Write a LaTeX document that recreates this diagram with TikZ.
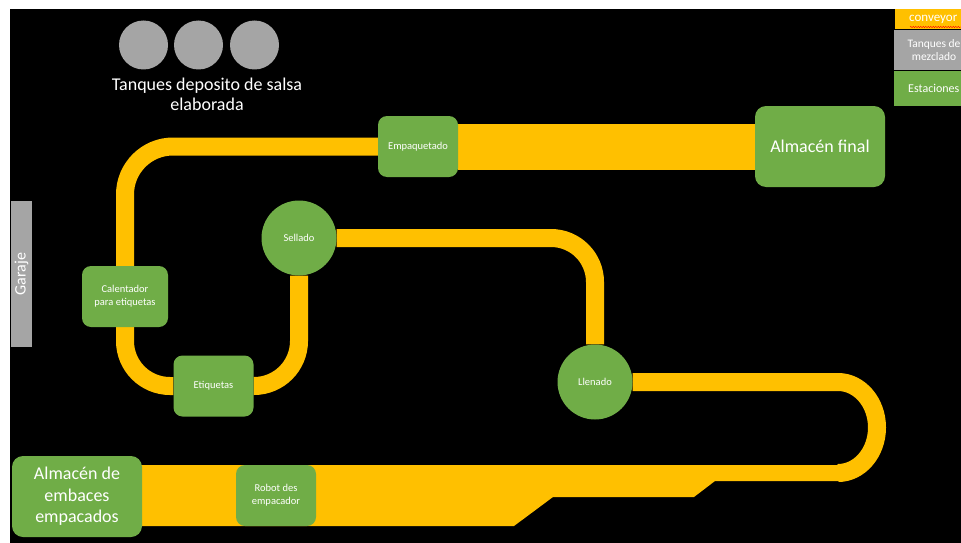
\documentclass[tikz,border=0pt]{standalone}
\usepackage{fontspec}
\setmainfont{Carlito}
\usetikzlibrary{decorations.pathmorphing}
\definecolor{cgreen}{HTML}{70AD47}
\definecolor{cgray}{HTML}{A5A5A5}
\definecolor{cyel}{HTML}{FFC000}
\pgfdeclarelayer{bg}
\pgfsetlayers{bg,main}
\begin{document}
\begin{tikzpicture}[x=1pt,y=-1pt,
  conv/.style={draw=cyel, line width=18pt},
  station/.style={fill=cgreen, rounded corners=9pt, text=white, align=center, inner sep=0pt,
    minimum width=80pt, minimum height=61pt, font=\fontsize{10.5}{13}\selectfont},
  bigstation/.style={station, minimum width=130pt, minimum height=81pt, rounded corners=11pt},
  circst/.style={circle, fill=cgreen, text=white, inner sep=0pt, minimum size=75pt,
    font=\fontsize{10.5}{13}\selectfont},
  tank/.style={circle, fill=cgray, inner sep=0pt, minimum size=49pt},
  legbox/.style={inner sep=0pt, text=white, align=center, font=\fontsize{11.5}{13}\selectfont}]
\useasboundingbox (0,0) rectangle (961,543);

% nodes
\node[station] (emp) at (418,146.5) {Empaquetado};
\node[bigstation, font=\fontsize{18}{20}\selectfont] (alm) at (820,146.5) {Almacén final};
\node[station, minimum width=86pt] (cal) at (125,296.5) {Calentador\\para etiquetas};
\node[station] (etq) at (213.5,386) {Etiquetas};
\node[circst] (sel) at (299,238) {Sellado};
\node[circst] (lle) at (595,382) {Llenado};
\node[bigstation, font=\fontsize{18}{21.5}\selectfont] (alm2) at (77,496.5) {Almacén de\\embaces\\empacados};
\node[station] (rob) at (276,495.5) {Robot des\\empacador};

% tanks
\node[tank] (t1) at (143.5,45) {};
\node[tank] (t2) at (198.5,45) {};
\node[tank] (t3) at (254.5,45) {};
\node[text=white, align=center, font=\fontsize{18}{20}\selectfont] (tl) at (207,94) {Tanques deposito de salsa\\elaborada};

% garage
\node[fill=cgray, minimum width=21pt, minimum height=146pt, inner sep=0pt] (gar) at (21.5,274) {};
\node[text=white, rotate=90, font=\fontsize{16}{18}\selectfont] (garl) at (gar.center) {Garaje};

% legend
\node[fill=cyel, minimum width=76pt, minimum height=20pt, inner sep=0pt] (lc) at (933,19) {};
\node[legbox, anchor=west, font=\fontsize{13}{15}\selectfont] (lct) at (909,19.5) {conveyor};
\draw[red, line width=0.4pt, decorate, decoration={snake, amplitude=0.7pt, segment length=2.5pt}]
  (910,27) -- (961,27);
\node[fill=cgray, minimum width=77pt, minimum height=39.5pt, inner sep=0pt] (lg) at (932.5,50.25) {};
\node[legbox] (lgt) at (934,50) {Tanques de\\mezclado};
\node[fill=cgreen, minimum width=77pt, minimum height=35pt, inner sep=0pt] (ls) at (932.5,88.5) {};
\node[legbox, anchor=west, font=\fontsize{12}{13}\selectfont] (lst) at (908,88) {Estaciones};

\begin{pgfonlayer}{bg}
  \fill[white] (0,0) rectangle (961,543);
  \fill[black] (10,9) rectangle (961,543);
  % conveyors
  \draw[conv, rounded corners=48pt] (emp.west) -| (cal.north);
  \draw[conv, rounded corners=45pt] (cal.south) |- (etq.west);
  \draw[conv, rounded corners=45pt] (etq.east) -| (sel.south);
  \draw[conv, rounded corners=44pt] (sel.east) -| (lle.north);
  \draw[conv, line width=46pt] (emp.east) -- (alm.west);
  \coordinate (ua) at (838,382);
  \coordinate (ub) at (838,473);
  \draw[conv] (lle.east) -- (ua) arc[start angle=-90, end angle=90, x radius=39, y radius=45.5] -- (ub);
  \fill[cyel] (140,465) -- (839,465) -- (839,481) -- (715,481) -- (694,497) -- (553,497)
    -- (514,526) -- (140,526) -- cycle;
\end{pgfonlayer}
\end{tikzpicture}
\end{document}
